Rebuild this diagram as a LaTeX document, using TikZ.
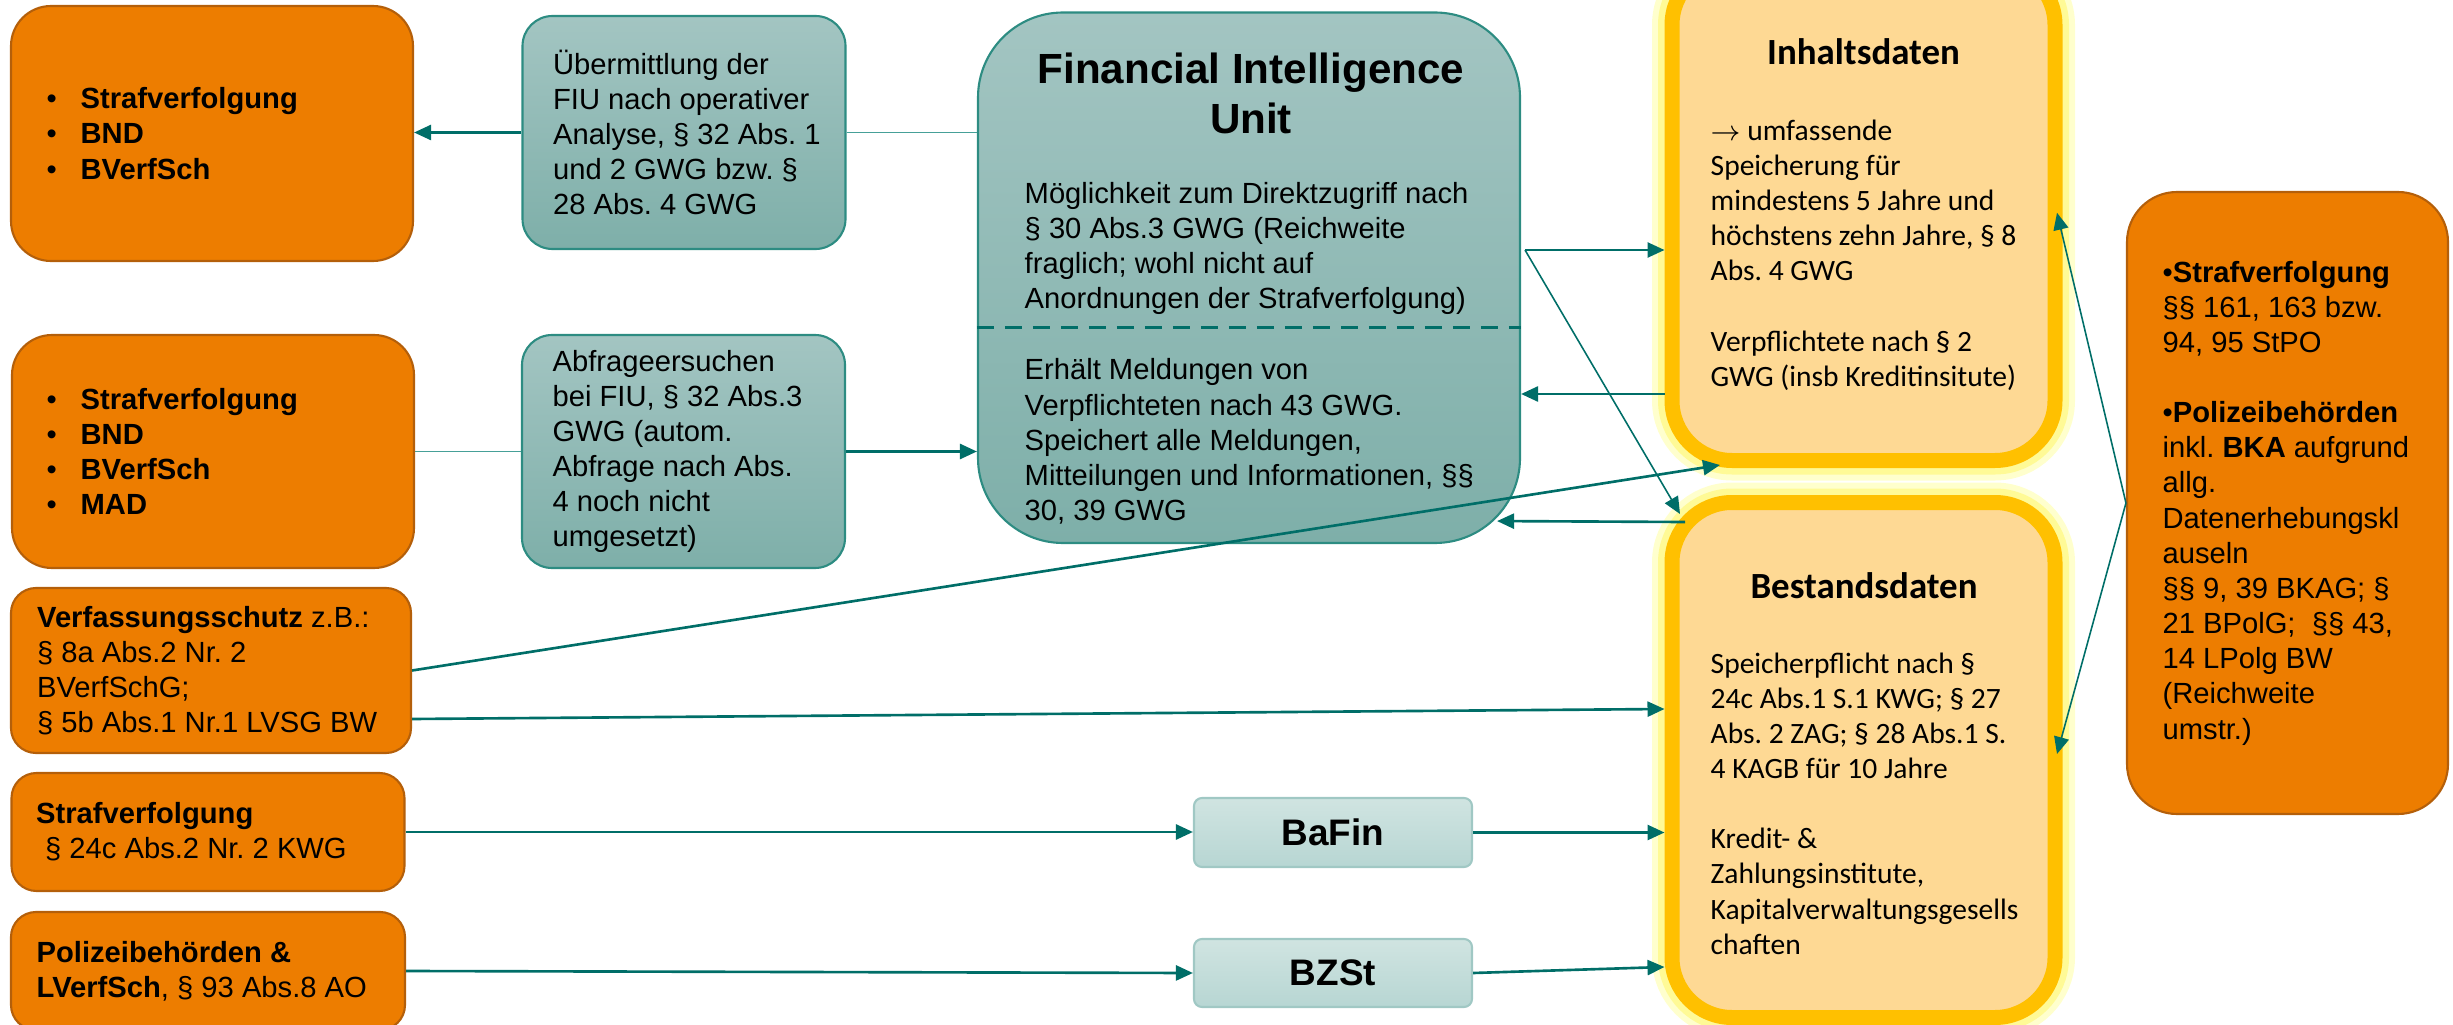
\documentclass[tikz,border=0pt]{standalone}
\usepackage{fontspec}
\setmainfont{Liberation Sans}
\newfontfamily\calfont{Carlito}
\usepackage{xcolor}
\usepackage{tikz}
\usetikzlibrary{positioning,arrows.meta}

\definecolor{orgfill}{RGB}{237,125,0}
\definecolor{orgline}{RGB}{180,95,10}
\definecolor{tealtop}{RGB}{163,197,194}
\definecolor{tealbot}{RGB}{126,175,169}
\definecolor{tealline}{RGB}{45,140,130}
\definecolor{ltop}{RGB}{208,228,225}
\definecolor{lbot}{RGB}{183,214,211}
\definecolor{lline}{RGB}{160,200,196}
\definecolor{arrowc}{RGB}{0,110,104}
\definecolor{linkc}{RGB}{70,160,152}
\definecolor{goldline}{RGB}{255,192,0}
\definecolor{yelfill}{RGB}{254,217,148}
\definecolor{glowa}{RGB}{255,255,205}
\definecolor{glowb}{RGB}{255,250,150}

\newcommand{\blt}{\makebox[0.34cm][l]{\textbullet}}

\begin{document}
\frenchspacing
\begin{tikzpicture}[
  orgbox/.style={draw=orgline, line width=0.6pt, fill=orgfill},
  tealbox/.style={draw=tealline, line width=0.6pt, top color=tealtop, bottom color=tealbot},
  ltbox/.style={draw=lline, line width=0.6pt, top color=ltop, bottom color=lbot, rounded corners=0.08cm},
  datbox/.style={draw=goldline, line width=0.15cm, fill=yelfill, rounded corners=0.6cm,
    preaction={draw=glowa, line width=0.40cm}, preaction={draw=glowb, line width=0.28cm}},
  txt/.style={inner sep=0pt, align=left, font=\fontsize{8.3}{10}\selectfont},
  caltxt/.style={inner sep=0pt, align=left, font=\calfont\fontsize{8.4}{10}\selectfont},
  conn/.style={draw=arrowc, line width=0.75pt, -{Triangle[length=0.17cm,width=0.15cm]}},
  thinconn/.style={conn, line width=0.45pt},
  link/.style={draw=linkc, line width=0.5pt}
]
  \useasboundingbox (0,0) rectangle (24.53,-10.25);

  % Yellow data boxes
  \node[datbox, minimum width=3.83cm, minimum height=4.955cm] (inh) at (18.635,-2.1275) {};
  \node[datbox, minimum width=3.83cm, minimum height=5.15cm] (bes) at (18.635,-7.60) {};
  \node[font=\calfont\bfseries\fontsize{10.5}{12}\selectfont] (inhtitle) at (18.635,-0.52) {Inhaltsdaten};
  \node[caltxt, anchor=west] (inhtext) at (17.10,-2.55)
    {$\rightarrow$ umfassende\\Speicherung für\\mindestens 5 Jahre und\\höchstens zehn Jahre, § 8\\Abs. 4 GWG\\[10pt]Verpflichtete nach § 2\\GWG (insb Kreditinsitute)};
  \node[font=\calfont\bfseries\fontsize{10.5}{12}\selectfont] (bestitle) at (18.64,-5.86) {Bestandsdaten};
  \node[caltxt, anchor=west] (bestext) at (17.10,-8.035)
    {Speicherpflicht nach §\\24c Abs.1 S.1 KWG; § 27\\Abs. 2 ZAG; § 28 Abs.1 S.\\4 KAGB für 10 Jahre\\[10pt]Kredit- \&\\Zahlungsinstitute,\\Kapitalverwaltungsgesells\\chaften};

  % Financial Intelligence Unit
  \node[tealbox, rounded corners=0.85cm, minimum width=5.42cm, minimum height=5.305cm] (fiu) at (12.49,-2.7775) {};
  \node[font=\bfseries\fontsize{12}{14.2}\selectfont, align=center] (fiutitle) at (12.51,-0.93) {Financial Intelligence\\Unit};
  \node[txt, anchor=west] (fiuup) at (10.24,-2.485)
    {Möglichkeit zum Direktzugriff nach\\§ 30 Abs.3 GWG (Reichweite\\fraglich; wohl nicht auf\\Anordnungen der Strafverfolgung)};
  \node[txt, anchor=west] (fiulow) at (10.24,-4.415)
    {Erhält Meldungen von\\Verpflichteten nach 43 GWG.\\Speichert alle Meldungen,\\Mitteilungen und Informationen, §§\\30, 39 GWG};
  \draw[arrowc, line width=1.1pt, dash pattern=on 0.17cm off 0.11cm] (fiu.west |- 0,-3.275) -- (fiu.east |- 0,-3.275);

  % Teal request boxes
  \node[tealbox, rounded corners=0.3cm, minimum width=3.23cm, minimum height=2.33cm] (uebm) at (6.84,-1.325) {};
  \node[txt, right=0.31cm of uebm.west] (uebmtext)
    {Übermittlung der\\FIU nach operativer\\Analyse, § 32 Abs. 1\\und 2 GWG bzw. §\\28 Abs. 4 GWG};
  \node[tealbox, rounded corners=0.3cm, minimum width=3.23cm, minimum height=2.33cm] (abfr) at (6.835,-4.515) {};
  \node[txt, right=0.31cm of abfr.west] (abfrtext)
    {Abfrageersuchen\\bei FIU, § 32 Abs.3\\GWG (autom.\\Abfrage nach Abs.\\4 noch nicht\\umgesetzt)};

  % BaFin and BZSt
  \node[ltbox, minimum width=2.78cm, minimum height=0.69cm, font=\bfseries\fontsize{10.5}{12}\selectfont] (bafin) at (13.33,-8.325) {BaFin};
  \node[ltbox, minimum width=2.78cm, minimum height=0.68cm, font=\bfseries\fontsize{10.5}{12}\selectfont] (bzst) at (13.33,-9.73) {BZSt};

  % Authorities (left)
  \node[orgbox, rounded corners=0.4cm, minimum width=4.02cm, minimum height=2.55cm] (stv1) at (2.12,-1.335) {};
  \node[txt, right=0.36cm of stv1.west] (stv1text)
    {\blt\textbf{Strafverfolgung}\\\blt\textbf{BND}\\\blt\textbf{BVerfSch}};
  \node[orgbox, rounded corners=0.4cm, minimum width=4.02cm, minimum height=2.33cm] (stv2) at (2.13,-4.515) {};
  \node[txt, right=0.35cm of stv2.west] (stv2text)
    {\blt\textbf{Strafverfolgung}\\\blt\textbf{BND}\\\blt\textbf{BVerfSch}\\\blt\textbf{MAD}};
  \node[orgbox, rounded corners=0.25cm, minimum width=4.0cm, minimum height=1.65cm] (vfs) at (2.11,-6.705) {};
  \node[txt, right=0.265cm of vfs.west] (vfstext)
    {\textbf{Verfassungsschutz} z.B.:\\§ 8a Abs.2 Nr. 2\\BVerfSchG;\\§ 5b Abs.1 Nr.1 LVSG BW};
  \node[orgbox, rounded corners=0.25cm, minimum width=3.93cm, minimum height=1.18cm] (stv3) at (2.08,-8.32) {};
  \node[txt, right=0.25cm of stv3.west] (stv3text)
    {\textbf{Strafverfolgung}\\\hspace*{0.09cm}§ 24c Abs.2 Nr. 2 KWG};
  \node[orgbox, rounded corners=0.25cm, minimum width=3.94cm, minimum height=1.18cm] (pol) at (2.08,-9.71) {};
  \node[txt, right=0.26cm of pol.west] (poltext)
    {\textbf{Polizeibehörden \&}\\\textbf{LVerfSch}, § 93 Abs.8 AO};

  % Authorities (right)
  \node[orgbox, rounded corners=0.5cm, minimum width=3.21cm, minimum height=6.22cm] (stpo) at (22.875,-5.03) {};
  \node[txt, right=0.36cm of stpo.west] (stpotext)
    {\textbullet\textbf{Strafverfolgung}\\§§ 161, 163 bzw.\\94, 95 StPO\\[10pt]\textbullet\textbf{Polizeibehörden}\\inkl. \textbf{BKA} aufgrund\\allg.\\Datenerhebungskl\\auseln\\§§ 9, 39 BKAG; §\\21 BPolG;~~§§ 43,\\14 LPolg BW\\(Reichweite\\umstr.)};

  % Connectors
  \draw[link] (uebm.east) -- (uebm.east -| fiu.west);
  \draw[conn] (uebm.west) -- (uebm.west -| stv1.east);
  \draw[link] (stv2.east) -- (abfr.west);
  \draw[conn] (abfr.east) -- (abfr.east -| fiu.west);

  \coordinate (fiuout) at (15.25,-2.50);
  \draw[conn] (fiuout) -- (fiuout -| inh.west);
  \draw[thinconn] (fiuout) -- ([shift={(0.155,-0.19)}]bes.north west);
  \draw[conn] (inh.west |- 0,-3.94) -- (fiu.east |- 0,-3.94);
  \draw[conn] ([shift={(0.205,-0.27)}]bes.north west) -- ([shift={(-0.24,0.23)}]fiu.south east);

  \draw[conn] (vfs.east) -- ([shift={(0.555,0.03)}]inh.south west);
  \draw[conn] ([yshift=-0.485cm]vfs.east) -- (bes.west |- 0,-7.09);
  \draw[conn] (stv3.east) -- (stv3.east -| bafin.west);
  \draw[conn] (bafin.east) -- (bafin.east -| bes.west);
  \draw[conn] (pol.east) -- (bzst.west);
  \draw[conn] (bzst.east) -- (bes.west |- 0,-9.67);

  \draw[thinconn] (stpo.west) -- ([xshift=-0.055cm]inh.east);
  \draw[thinconn] (stpo.west) -- ([shift={(-0.055,0.06)}]bes.east);
\end{tikzpicture}
\end{document}
